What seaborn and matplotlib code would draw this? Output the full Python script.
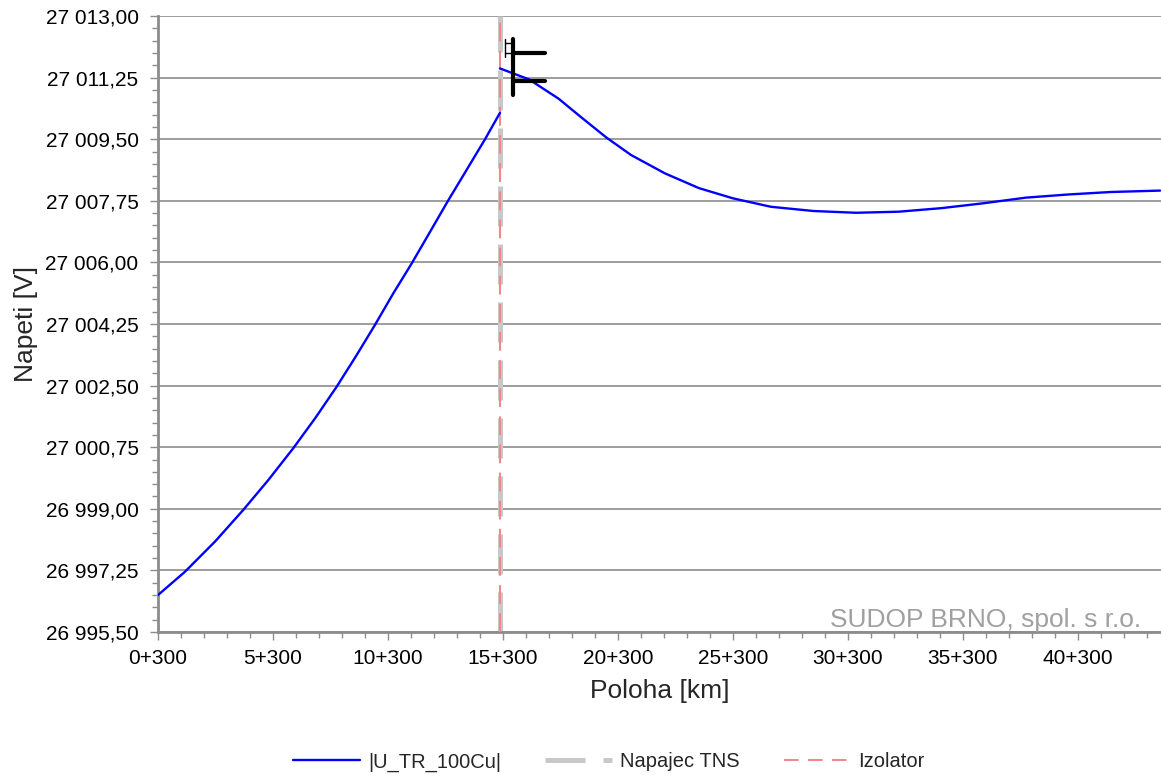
import numpy as np
import pandas as pd
import matplotlib
matplotlib.use("Agg")
import matplotlib.pyplot as plt
import seaborn as sns
from matplotlib.ticker import FuncFormatter, MultipleLocator, FixedLocator

# Voltage along the line, left of the feeder / isolator
km_left = [0.3, 1.47, 2.78, 4.01, 5.10, 6.18, 7.13, 8.07, 8.94, 9.73, 10.53,
           11.33, 12.13, 12.90, 13.72, 14.52, 15.17]
u_left = [26996.55, 26997.21, 26998.07, 26998.97, 26999.82, 27000.72, 27001.57,
          27002.47, 27003.37, 27004.22, 27005.12, 27005.97, 27006.87, 27007.74,
          27008.63, 27009.50, 27010.25]

# right of the feeder / isolator
km_right = [15.17, 16.43, 17.72, 18.65, 19.79, 20.87, 22.34, 23.82, 25.30, 26.95,
            28.80, 30.65, 32.50, 34.34, 36.19, 38.04, 39.89, 41.73, 43.87]
u_right = [27011.51, 27011.20, 27010.65, 27010.15, 27009.55, 27009.05, 27008.53,
           27008.11, 27007.82, 27007.58, 27007.46, 27007.41, 27007.44, 27007.54,
           27007.68, 27007.84, 27007.93, 27008.00, 27008.04]

feeder_km = 15.17     # Napajec TNS
isolator_km = 15.17   # Izolator

# leftover error-bar marks near the feeder
bar_thin_x = [15.39, 15.39]
bar_thin_y = [27012.35, 27011.84]
bar_thin_caps = [27012.23, 27011.95]
bar_thick_x = [15.73, 15.73]
bar_thick_y = [27012.35, 27010.76]
bar_thick_caps = [27011.95, 27011.15]
bar_thick_cap_end = 17.13

x_ticks = [0.3, 5.3, 10.3, 15.3, 20.3, 25.3, 30.3, 35.3, 40.3]
y_min, y_max, y_step = 26995.5, 27013.0, 1.75

sns.set_style("white")
plt.rcParams["font.family"] = ["Liberation Sans", "DejaVu Sans"]

fig = plt.figure(figsize=(11.61, 7.78), dpi=100)
ax = fig.add_axes([158 / 1161, 1 - 632 / 778, 1003 / 1161, 616 / 778])

left = pd.DataFrame({"km": km_left, "U": u_left})
right = pd.DataFrame({"km": km_right, "U": u_right})

ax.axvline(feeder_km, color="#c8c8c8", lw=3.6, dashes=(8, 3.6), zorder=2)
ax.axvline(isolator_km, color="#f08a8a", lw=1.5, dashes=(9, 4.5), zorder=3)

sns.lineplot(data=left, x="km", y="U", color="#0000ff", lw=1.7, ax=ax, zorder=4)
sns.lineplot(data=right, x="km", y="U", color="#0000ff", lw=1.7, ax=ax, zorder=4)

# error bar leftovers
ax.plot(bar_thin_x, bar_thin_y, color="black", lw=1, zorder=5)
for c in bar_thin_caps:
    ax.plot([bar_thin_x[0], bar_thick_x[0]], [c, c], color="black", lw=1, zorder=5)
ax.plot(bar_thick_x, bar_thick_y, color="black", lw=3, zorder=5)
for c in bar_thick_caps:
    ax.plot([bar_thick_x[0], bar_thick_cap_end], [c, c], color="black", lw=3, zorder=5)

ax.set_xlim(0.3, 43.91)
ax.set_ylim(y_min, y_max)
ax.xaxis.set_major_locator(FixedLocator(x_ticks))
ax.xaxis.set_minor_locator(FixedLocator(np.arange(0.3, 44, 1.0)))
ax.yaxis.set_major_locator(MultipleLocator(y_step))
ax.yaxis.set_minor_locator(MultipleLocator(y_step / 5))


def fmt_y(v, pos):
    s = f"{v:,.2f}"
    return s.replace(",", " ").replace(".", ",")


ax.yaxis.set_major_formatter(FuncFormatter(fmt_y))
ax.xaxis.set_major_formatter(FuncFormatter(lambda v, p: f"{int(round(v - 0.3))}+300"))

ax.grid(axis="y", color="#8c8c8c", lw=1.2)
ax.grid(axis="x", visible=False)
ax.spines["right"].set_visible(False)
ax.spines["top"].set_visible(False)
for s in ["left", "bottom"]:
    ax.spines[s].set_color("#8c8c8c")
    ax.spines[s].set_linewidth(2)
ax.tick_params(axis="both", which="major", direction="out", length=6, width=1,
               color="#8c8c8c", labelsize=15, labelcolor="black", left=True, bottom=True)
ax.tick_params(axis="both", which="minor", direction="out", length=4, width=1,
               color="#8c8c8c", left=True, bottom=True)
ax.tick_params(axis="y", which="major", pad=8)
ax.tick_params(axis="x", which="major", pad=6)

ax.set_xlabel("Poloha [km]", fontsize=19, labelpad=8)
ax.set_ylabel("Napeti [V]", fontsize=19, labelpad=5)

ax.text(0.98, 0.0, "SUDOP BRNO, spol. s r.o.", transform=ax.transAxes,
        ha="right", va="bottom", fontsize=19, color="#a0a0a0")

handles = [
    plt.Line2D([], [], color="#0000ff", lw=1.7),
    plt.Line2D([], [], color="#c8c8c8", lw=3.6, dashes=(8, 3.6)),
    plt.Line2D([], [], color="#f08a8a", lw=1.5, dashes=(7, 4.5)),
]
fig.legend(handles, ["|U_TR_100Cu|", "Napajec TNS", "Izolator"], loc="center",
           bbox_to_anchor=(609 / 1161, 1 - 762 / 778), ncol=3, frameon=False,
           fontsize=14.5, handlelength=3.3, handletextpad=0.4, columnspacing=2.2)

fig.savefig("out.png", dpi=100)
